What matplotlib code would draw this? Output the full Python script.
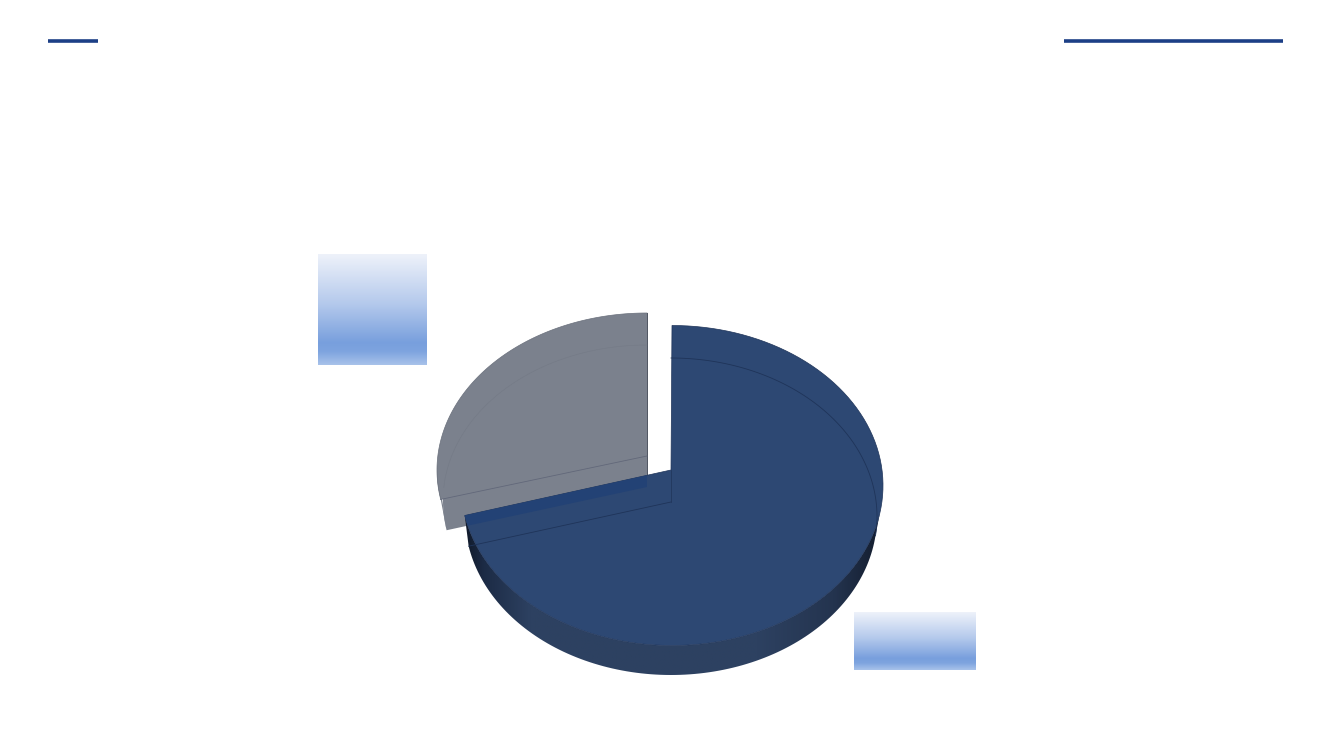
import numpy as np
import matplotlib
matplotlib.use("Agg")
import matplotlib.pyplot as plt
from matplotlib.patches import Polygon
from matplotlib.colors import LinearSegmentedColormap

# DATA
SLICE_NAMES = ["blue", "grey"]
SLICE_SHARES = [72, 28]

# COLORS
BLUE = "#2d4873"
GREY = "#7b818d"
BAND = "#234275"
RULE = "#1c3f86"

fig = plt.figure(figsize=(13.33, 7.5), dpi=100)
ax = fig.add_axes([0, 0, 1, 1])


def arc(face, t0, t1, n=120):
    t = np.radians(np.linspace(t0, t1, n))
    return np.column_stack([face["cx"] + face["rx"] * np.sin(t), face["cy"] - face["ry"] * np.cos(t)])


def wedge(face, t0, t1):
    return np.vstack([[face["ax"], face["ay"]], arc(face, t0, t1)])


# Header rules
ax.plot([48, 98], [40.5, 40.5], color=RULE, lw=2.6, solid_capstyle="butt")
ax.plot([1064, 1283], [40.5, 40.5], color=RULE, lw=2.6, solid_capstyle="butt")

# Gradient label boxes
grad = LinearSegmentedColormap.from_list(
    "box", [(0, "#eef2fa"), (0.45, "#b4c9ec"), (0.8, "#789fdd"), (0.88, "#7ea4df"), (1, "#a8c2ea")]
)
ramp = np.linspace(0, 1, 256).reshape(-1, 1)
for x0, x1, y0, y1 in [(318, 427, 254, 365), (854, 976, 612, 670)]:
    ax.imshow(ramp, cmap=grad, extent=[x0, x1, y1, y0], aspect="auto", zorder=1)

# Pie geometry, angles from the share of the big slice
split = 360 * SLICE_SHARES[0] / sum(SLICE_SHARES)

blue_top = dict(cx=672, cy=485.5, rx=211, ry=160, ax=671, ay=470)
blue_bot = dict(cx=671, cy=516.5, rx=206, ry=158.5, ax=671, ay=502)
grey_top = dict(cx=647, cy=470, rx=210, ry=157, ax=647, ay=456)
grey_bot = dict(cx=647, cy=501, rx=204, ry=156, ax=647, ay=487)

# Grey slice, solid body then its faint inner edges
ax.add_patch(Polygon(wedge(grey_bot, split, 360), fc=GREY, ec="none", zorder=2))
ax.add_patch(Polygon(wedge(grey_top, split, 360), fc=GREY, ec="none", zorder=2))
side = np.vstack([arc(grey_top, split, 272, 30), arc(grey_bot, split, split, 1)])
ax.add_patch(Polygon(side, fc=GREY, ec="none", zorder=2))
ax.plot(*arc(grey_top, split, 360).T, color="#6a707c", lw=0.5, zorder=3)
ax.plot([grey_top["ax"]] * 2, [313, 487], color="#4d5360", lw=0.7, zorder=3)
ax.plot(*arc(grey_bot, 275, 360).T, color="#747a86", lw=0.4, zorder=3)
ax.plot(*np.array([[grey_top["ax"], grey_top["ay"]], arc(grey_top, split, split, 1)[0]]).T,
        color="#62687a", lw=0.6, zorder=3)

# Blue side wall, shaded left to right and clipped to the rim
wall = Polygon(np.vstack([arc(blue_top, 97, split), arc(blue_bot, split, 97)]), fc="none", ec="none", zorder=4)
ax.add_patch(wall)
shade = LinearSegmentedColormap.from_list(
    "wall", [(0, "#0f1726"), (0.05, "#1c2b45"), (0.16, "#2d4161"), (0.7, "#2d4161"), (0.88, "#24344f"), (1, "#121b2c")]
)
shading = ax.imshow(np.linspace(0, 1, 256).reshape(1, -1), cmap=shade, extent=[462, 885, 680, 500],
                    aspect="auto", zorder=4)
shading.set_clip_path(wall)

# Blue top face
top_patch = Polygon(wedge(blue_top, 0, split), fc=BLUE, ec="#1f3459", lw=0.5, zorder=5)
ax.add_patch(top_patch)

# Grey lying under the blue face shows as a more saturated band
band = Polygon(wedge(grey_bot, split, 360), fc=BAND, ec="none", zorder=6)
ax.add_patch(band)
band.set_clip_path(top_patch)

# Blue bottom face seen through the top
ax.plot(*arc(blue_bot, 0, 97).T, color="#1f3459", lw=0.6, zorder=7)
ax.plot(*np.array([[blue_bot["ax"], blue_bot["ay"]], arc(blue_bot, split, split, 1)[0]]).T,
        color="#1f3459", lw=0.6, zorder=7)
ax.plot([blue_top["ax"], blue_bot["ax"]], [470, 502], color="#1f3459", lw=0.5, zorder=7)

ax.set_xlim(0, 1333)
ax.set_ylim(750, 0)
ax.axis("off")

fig.savefig("out.png", dpi=100, facecolor="white")
